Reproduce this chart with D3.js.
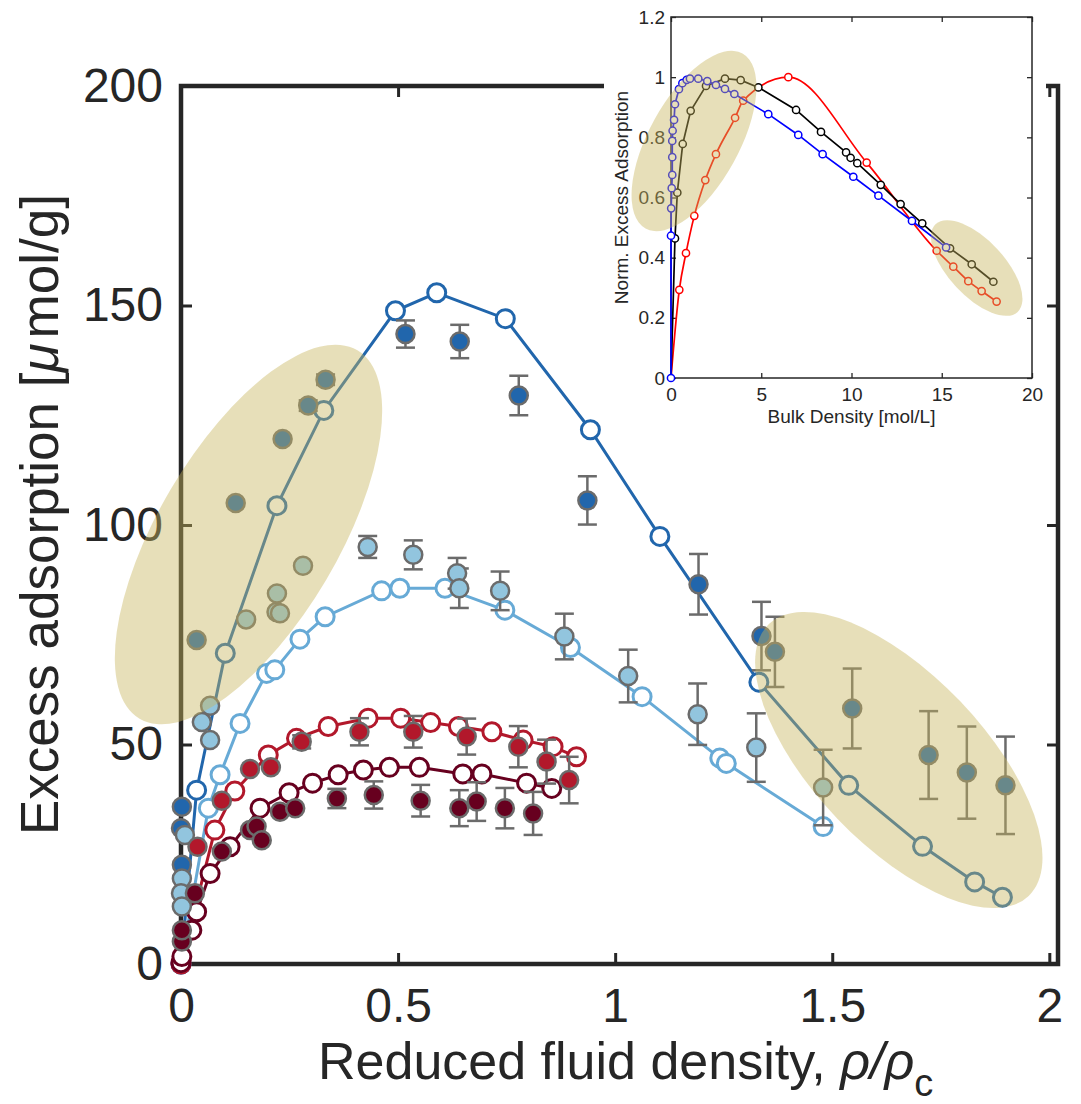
<!DOCTYPE html>
<html>
<head>
<meta charset="utf-8">
<script src="https://cdn.jsdelivr.net/npm/d3@7/dist/d3.min.js"></script>
<style>
  body { margin: 0; background: #fff; }
  svg { display: block; font-family: "Helvetica Neue", Helvetica, "Liberation Sans", Arial, sans-serif; }
</style>
</head>
<body>
<div id="chart"></div>
<script>
// Main chart data: [reduced density, excess adsorption] for simulations,
// [reduced density, excess adsorption, error] for experiments
const darkBlueSim = [[0, 0], [0.036, 39.6], [0.102, 70.8], [0.221, 104.4], [0.329, 126.1], [0.494, 148.8], [0.589, 152.9], [0.747, 147.0], [0.943, 121.7], [1.103, 97.4], [1.331, 64.2], [1.538, 40.7], [1.708, 26.8], [1.828, 18.7], [1.892, 15.2]];
const lightBlueSim = [[0, 0], [0.063, 35.5], [0.09, 43.1], [0.136, 54.8], [0.197, 66.2], [0.216, 67.0], [0.274, 74.0], [0.332, 79.1], [0.462, 85.0], [0.504, 85.6], [0.608, 85.6], [0.746, 80.6], [0.897, 72.1], [1.062, 60.9], [1.241, 46.9], [1.256, 45.7], [1.479, 31.3]];
const redSim = [[0, 0], [0.078, 30.5], [0.124, 39.4], [0.201, 47.6], [0.266, 51.4], [0.339, 54.1], [0.431, 56.0], [0.506, 56.0], [0.575, 55.0], [0.639, 54.1], [0.716, 52.9], [0.788, 51.0], [0.857, 49.5], [0.911, 47.2]];
const darkRedSim = [[0, 0.3], [0.002, 1.7], [0.025, 7.7], [0.036, 11.9], [0.067, 20.6], [0.113, 26.7], [0.182, 35.5], [0.249, 39.0], [0.303, 41.2], [0.362, 43.1], [0.42, 44.2], [0.48, 44.8], [0.549, 44.8], [0.649, 43.3], [0.693, 43.3], [0.796, 41.2], [0.854, 40.0]];

const darkBlueExp = [[0.002, 35.8, 0], [0.0, 30.9, 0], [0.002, 22.6, 0], [0.036, 73.8, 0], [0.126, 105.0, 0], [0.234, 119.6, 0], [0.293, 127.2, 1.2], [0.333, 133.1, 1.2], [0.517, 143.5, 3.1], [0.642, 141.8, 3.8], [0.778, 129.5, 4.5], [0.936, 105.6, 5.5], [1.192, 86.5, 6.9], [1.337, 74.7, 7.8], [1.368, 71.1, 8.0], [1.546, 58.2, 9.1], [1.722, 47.6, 10.0], [1.81, 43.6, 10.5], [1.899, 40.7, 11.1]];
const lightBlueExp = [[0.009, 29.4, 0], [0.002, 19.5, 0], [0.0, 16.1, 0], [0.002, 13.1, 0], [0.048, 55.1, 0], [0.067, 51.0, 0], [0.067, 58.8, 0], [0.15, 78.5, 0], [0.22, 80.2, 0], [0.228, 79.9, 0], [0.221, 84.4, 0], [0.281, 90.7, 0], [0.43, 95.0, 2.5], [0.535, 93.2, 3.3], [0.636, 89.0, 3.5], [0.641, 85.6, 4.5], [0.735, 85.0, 4.4], [0.883, 74.6, 5.2], [1.03, 65.6, 6.0], [1.19, 56.9, 7.0], [1.325, 49.3, 7.8], [1.479, 40.2, 8.6]];
const redExp = [[0.038, 26.7, 0], [0.094, 37.2, 0], [0.159, 44.4, 0], [0.207, 44.8, 0], [0.278, 50.6, 1.5], [0.411, 52.9, 3.1], [0.535, 52.9, 3.6], [0.658, 51.8, 4.1], [0.777, 49.5, 4.7], [0.842, 46.1, 5.0], [0.894, 41.9, 5.3]];
const darkRedExp = [[0.002, 5.1, 0], [0.002, 7.7, 0], [0.032, 16.1, 0], [0.094, 25.6, 0], [0.159, 30.5, 0], [0.174, 31.3, 0], [0.186, 28.2, 0], [0.228, 34.7, 0], [0.263, 35.5, 0], [0.359, 37.7, 2.2], [0.444, 38.5, 3.1], [0.552, 37.2, 3.6], [0.641, 35.5, 4.1], [0.681, 37.0, 4.4], [0.746, 35.5, 4.6], [0.811, 34.3, 4.9]];

const xTicks = [0, 0.5, 1, 1.5, 2];
const yTicks = [0, 50, 100, 150, 200];

// Inset data: [bulk density, normalised excess adsorption]
const insetRed = [[0.46, 0.293], [0.83, 0.415], [1.29, 0.539], [1.9, 0.658], [2.49, 0.744], [3.55, 0.865], [4.0, 0.922], [6.5, 1.0], [10.84, 0.716], [14.72, 0.423], [15.64, 0.37], [16.47, 0.322], [17.21, 0.289], [18.04, 0.254]];
const insetBlack = [[0.22, 0.464], [0.35, 0.616], [0.65, 0.778], [1.09, 0.888], [1.94, 0.971], [2.99, 0.995], [3.86, 0.99], [4.84, 0.966], [6.93, 0.891], [8.31, 0.818], [9.7, 0.75], [9.95, 0.732], [10.32, 0.714], [11.62, 0.642], [12.72, 0.578], [13.92, 0.514], [15.46, 0.431], [16.66, 0.378], [17.86, 0.32]];
const insetBlue = [[0, 0], [0, 0.473], [0.01, 0.564], [0.04, 0.631], [0.07, 0.675], [0.07, 0.734], [0.07, 0.788], [0.09, 0.822], [0.17, 0.858], [0.22, 0.91], [0.44, 0.96], [0.63, 0.98], [0.87, 0.991], [1.05, 0.995], [1.51, 0.995], [2.01, 0.987], [2.49, 0.974], [2.99, 0.961], [3.51, 0.944], [5.39, 0.877], [7.05, 0.808], [8.4, 0.744], [10.1, 0.669], [11.49, 0.606], [13.35, 0.522], [15.24, 0.434]];

const insetXTicks = [0, 5, 10, 15, 20];
const insetYTicks = [0, 0.2, 0.4, 0.6, 0.8, 1, 1.2];

// Set up
const width = 1081;
const height = 1104;
const axisColor = "#262626";
const markerStroke = "#6b6b6b";
const highlightFill = "rgb(200,180,92)";
const highlightOpacity = 0.43;
const formatTick = d3.format("~g");

const svg = d3.select("#chart").append("svg").attr("width", width).attr("height", height);

const x = d3.scaleLinear().domain([0, 2.02]).range([181, 1058]);
const y = d3.scaleLinear().domain([0, 200]).range([964, 86]);

// Axes (ticks point inward)
function styleAxis(g, fontSize) {
  g.select(".domain").remove();
  g.selectAll(".tick line").attr("stroke", axisColor).attr("stroke-width", 3);
  g.selectAll(".tick text").attr("fill", axisColor).style("font-size", fontSize + "px");
}

svg.append("g")
  .attr("transform", `translate(${x(0)},0)`)
  .call(d3.axisLeft(y).tickValues(yTicks).tickSize(-11).tickPadding(18).tickFormat(formatTick))
  .call((g) => styleAxis(g, 48));

svg.append("g")
  .attr("transform", `translate(${x.range()[1]},0)`)
  .call(d3.axisRight(y).tickValues(yTicks).tickSize(-11).tickFormat(""))
  .call((g) => styleAxis(g, 48));

svg.append("g")
  .attr("transform", `translate(0,${y(0)})`)
  .call(d3.axisBottom(x).tickValues(xTicks).tickSize(-11).tickPadding(24).tickFormat(formatTick))
  .call((g) => styleAxis(g, 48));

svg.append("g")
  .attr("transform", `translate(0,${y(200)})`)
  .call(d3.axisTop(x).tickValues(xTicks).tickSize(-11).tickFormat(""))
  .call((g) => styleAxis(g, 48));

// Frame
svg.append("rect")
  .attr("x", x(0)).attr("y", y(200))
  .attr("width", x.range()[1] - x(0)).attr("height", y(0) - y(200))
  .attr("fill", "none").attr("stroke", axisColor).attr("stroke-width", 4.5);

// Axis titles
const yTitle = svg.append("text")
  .attr("transform", "translate(58,835) rotate(-90)")
  .attr("fill", axisColor)
  .style("font-size", "53px");
yTitle.append("tspan").text("Excess adsorption [");
yTitle.append("tspan").style("font-style", "italic").text("\u03bc");
yTitle.append("tspan").attr("dx", 5).text("mol/g]");

const xTitle = svg.append("text")
  .attr("x", 318).attr("y", 1079)
  .attr("fill", axisColor)
  .style("font-size", "52px");
xTitle.append("tspan").text("Reduced fluid density, ");
xTitle.append("tspan").style("font-style", "italic").text("\u03c1/\u03c1");
xTitle.append("tspan").attr("dy", 17).style("font-size", "38px").text("c");

// Series
const series = [
  { sim: lightBlueSim, exp: lightBlueExp, line: "#67aad6", fill: "#92c5de" },
  { sim: darkBlueSim, exp: darkBlueExp, line: "#2166ac", fill: "#2166ac" },
  { sim: redSim, exp: redExp, line: "#b2182b", fill: "#b2182b" },
  { sim: darkRedSim, exp: darkRedExp, line: "#67001f", fill: "#67001f" },
];

const line = d3.line().x((d) => x(d[0])).y((d) => y(d[1]));

// Simulation lines and open circles
const simG = svg.append("g").attr("class", "sims");
series.forEach((s) => {
  simG.append("path")
    .attr("d", line(s.sim))
    .attr("fill", "none")
    .attr("stroke", s.line)
    .attr("stroke-width", 3);
  simG.append("g")
    .selectAll("circle")
    .data(s.sim)
    .join("circle")
    .attr("cx", (d) => x(d[0]))
    .attr("cy", (d) => y(d[1]))
    .attr("r", 9)
    .attr("fill", "#fff")
    .attr("stroke", s.line)
    .attr("stroke-width", 3);
});

// Experiments with error bars
const expOrder = [series[1], series[0], series[2], series[3]];
const expG = svg.append("g").attr("class", "exps");
expOrder.forEach((s) => {
  const withErr = s.exp.filter((d) => d[2] > 0);
  const bars = expG.append("g")
    .selectAll("g")
    .data(withErr)
    .join("g")
    .attr("stroke", markerStroke)
    .attr("stroke-width", 2.5);
  bars.append("line")
    .attr("x1", (d) => x(d[0])).attr("x2", (d) => x(d[0]))
    .attr("y1", (d) => y(d[1] - d[2])).attr("y2", (d) => y(d[1] + d[2]));
  bars.append("line")
    .attr("x1", (d) => x(d[0]) - 9.5).attr("x2", (d) => x(d[0]) + 9.5)
    .attr("y1", (d) => y(d[1] - d[2])).attr("y2", (d) => y(d[1] - d[2]));
  bars.append("line")
    .attr("x1", (d) => x(d[0]) - 9.5).attr("x2", (d) => x(d[0]) + 9.5)
    .attr("y1", (d) => y(d[1] + d[2])).attr("y2", (d) => y(d[1] + d[2]));

  expG.append("g")
    .selectAll("circle")
    .data(s.exp)
    .join("circle")
    .attr("cx", (d) => x(d[0]))
    .attr("cy", (d) => y(d[1]))
    .attr("r", 9)
    .attr("fill", s.fill)
    .attr("stroke", markerStroke)
    .attr("stroke-width", 2.5);
});

// Highlight ellipses
const mainEllipses = [
  { cx: 248.5, cy: 534.5, rx: 214, ry: 90, angle: -59.4 },
  { cx: 898.8, cy: 760, rx: 188, ry: 85, angle: 46.3 },
];
svg.append("g")
  .selectAll("ellipse")
  .data(mainEllipses)
  .join("ellipse")
  .attr("transform", (d) => `translate(${d.cx},${d.cy}) rotate(${d.angle})`)
  .attr("rx", (d) => d.rx)
  .attr("ry", (d) => d.ry)
  .attr("fill", highlightFill)
  .attr("fill-opacity", highlightOpacity);

// Inset
const inset = svg.append("g").attr("class", "inset");
inset.append("rect")
  .attr("x", 604).attr("y", 0).attr("width", 442).attr("height", 436)
  .attr("fill", "#fff");

const xi = d3.scaleLinear().domain([0, 20]).range([671, 1032]);
const yi = d3.scaleLinear().domain([0, 1.2]).range([378, 17]);

function styleInsetAxis(g) {
  g.select(".domain").remove();
  g.selectAll(".tick line").attr("stroke", axisColor).attr("stroke-width", 1.3);
  g.selectAll(".tick text").attr("fill", axisColor).style("font-size", "19px");
}

inset.append("g")
  .attr("transform", `translate(${xi(0)},0)`)
  .call(d3.axisLeft(yi).tickValues(insetYTicks).tickSize(-5).tickPadding(6).tickFormat(formatTick))
  .call(styleInsetAxis);
inset.append("g")
  .attr("transform", `translate(${xi(20)},0)`)
  .call(d3.axisRight(yi).tickValues(insetYTicks).tickSize(-5).tickFormat(""))
  .call(styleInsetAxis);
inset.append("g")
  .attr("transform", `translate(0,${yi(0)})`)
  .call(d3.axisBottom(xi).tickValues(insetXTicks).tickSize(-5).tickPadding(10).tickFormat(formatTick))
  .call(styleInsetAxis);
inset.append("g")
  .attr("transform", `translate(0,${yi(1.2)})`)
  .call(d3.axisTop(xi).tickValues(insetXTicks).tickSize(-5).tickFormat(""))
  .call(styleInsetAxis);

inset.append("rect")
  .attr("x", xi(0)).attr("y", yi(1.2))
  .attr("width", xi(20) - xi(0)).attr("height", yi(0) - yi(1.2))
  .attr("fill", "none").attr("stroke", axisColor).attr("stroke-width", 1.5);

inset.append("text")
  .attr("x", (xi(0) + xi(20)) / 2).attr("y", 423)
  .attr("text-anchor", "middle")
  .attr("fill", axisColor)
  .style("font-size", "19px")
  .text("Bulk Density [mol/L]");

inset.append("text")
  .attr("transform", `translate(628,${(yi(0) + yi(1.2)) / 2}) rotate(-90)`)
  .attr("text-anchor", "middle")
  .attr("fill", axisColor)
  .style("font-size", "19px")
  .text("Norm. Excess Adsorption");

const insetSeries = [
  { data: insetRed, color: "#ff0000", curve: d3.curveMonotoneX, origin: true },
  { data: insetBlack, color: "#000000", curve: d3.curveLinear, origin: true },
  { data: insetBlue, color: "#0000ff", curve: d3.curveLinear, origin: false },
];

insetSeries.forEach((s) => {
  const pts = s.origin ? [[0, 0]].concat(s.data) : s.data;
  inset.append("path")
    .attr("d", d3.line().curve(s.curve).x((d) => xi(d[0])).y((d) => yi(d[1]))(pts))
    .attr("fill", "none")
    .attr("stroke", s.color)
    .attr("stroke-width", 1.7);
  inset.append("g")
    .selectAll("circle")
    .data(s.data)
    .join("circle")
    .attr("cx", (d) => xi(d[0]))
    .attr("cy", (d) => yi(d[1]))
    .attr("r", 3.6)
    .attr("fill", "#fff")
    .attr("stroke", s.color)
    .attr("stroke-width", 1.5);
});

const insetEllipses = [
  { cx: 694, cy: 141, rx: 100, ry: 45, angle: -61 },
  { cx: 976.7, cy: 268, rx: 60, ry: 28, angle: 47 },
];
inset.append("g")
  .selectAll("ellipse")
  .data(insetEllipses)
  .join("ellipse")
  .attr("transform", (d) => `translate(${d.cx},${d.cy}) rotate(${d.angle})`)
  .attr("rx", (d) => d.rx)
  .attr("ry", (d) => d.ry)
  .attr("fill", highlightFill)
  .attr("fill-opacity", highlightOpacity);
</script>
</body>
</html>
